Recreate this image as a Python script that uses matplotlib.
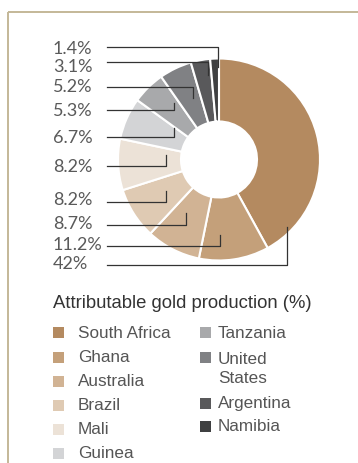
import matplotlib.pyplot as plt
from matplotlib.patches import Rectangle

# data
countries = ['South Africa', 'Ghana', 'Australia', 'Brazil', 'Mali',
             'Guinea', 'Tanzania', 'United\nStates', 'Argentina', 'Namibia']
share = [42, 11.2, 8.7, 8.2, 8.2, 6.7, 5.3, 5.2, 3.1, 1.4]
colors = ['#b48a60', '#c4a07a', '#d1b394', '#dfcab3', '#ece2d7',
          '#d3d4d6', '#a8a9ab', '#808184', '#59595b', '#3f4041']

W, H = 358, 464

# layout for labels (pixel coords, y from top)
text_y = [264, 245.5, 224, 200, 166.5, 138, 111.5, 87.5, 67, 48.5]
line_y = [266, 247, 226, 203, 167, 138, 111, 88, 63, 48]
anchor = [(287, 228), (220, 236), (186, 214), (166, 192), (166, 156),
          (174, 129), (174, 104), (193, 99), (208, 76), (218, 68)]

fig = plt.figure(figsize=(W / 100, H / 100), dpi=100)
ax = fig.add_axes([0, 0, 1, 1])

ax.pie(share, colors=colors, startangle=90, counterclock=False,
       center=(219, H - 160.5), radius=101,
       wedgeprops=dict(width=63, edgecolor='white', linewidth=1.5))

ax.set_xlim(0, W)
ax.set_ylim(0, H)
ax.set_aspect('equal')
ax.axis('off')

# frame
ax.plot([8, W], [H - 13, H - 13], color='#c4b898', lw=1.4, solid_capstyle='butt')
ax.plot([8, 8], [H - 13, 0], color='#c4b898', lw=1.4, solid_capstyle='butt')

# labels with leader lines
for v, ty, ly, (axp, ayp) in zip(share, text_y, line_y, anchor):
    ax.text(53, H - ty, f'{v:g}%', fontsize=13, family='Lato',
            color='#5a5a5a', va='center', ha='left')
    ax.plot([107, axp, axp], [H - ly, H - ly, H - ayp],
            color='#333333', lw=0.9)

# legend
ax.text(53, H - 303, 'Attributable gold production (%)', fontsize=13.3,
        family='Liberation Sans', color='#333333', va='center')

col1 = list(zip(countries[:6], colors[:6], [333, 358, 382, 406, 430, 454]))
col2 = list(zip(countries[6:], colors[6:], [333, 358, 404, 427]))
for items, sx, tx in [(col1, 53, 78), (col2, 200, 218)]:
    for name, c, y in items:
        ax.add_patch(Rectangle((sx, H - y - 5.5), 11, 11, color=c, lw=0))
        if '\n' in name:
            ax.text(tx, H - y + 6, name, fontsize=12.3, family='Liberation Sans',
                    color='#555555', va='top', linespacing=1.32)
        else:
            ax.text(tx, H - y, name, fontsize=12.3, family='Liberation Sans',
                    color='#555555', va='center')

fig.savefig('out.png', dpi=100)
